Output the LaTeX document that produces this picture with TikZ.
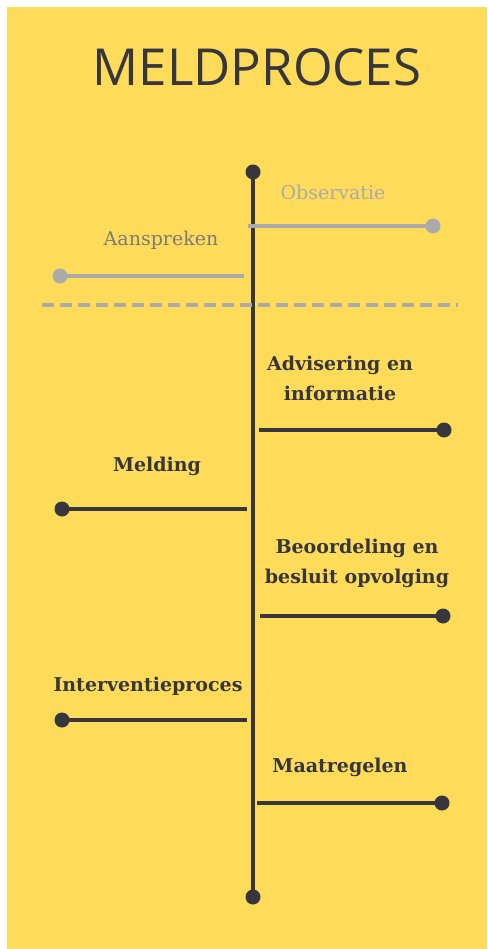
\documentclass[tikz,border=0pt]{standalone}
\usepackage{fontspec}
\setmainfont{DejaVu Serif}
\newfontfamily\titlefont{Open Sans}
\definecolor{bgyellow}{HTML}{FEDC5A}
\definecolor{ink}{HTML}{36363C}
\definecolor{lightgray}{HTML}{AAAAAA}
\definecolor{midgray}{HTML}{7B7B7B}
\tikzset{
  inkline/.style={draw=ink,line width=3.2pt},
  grayline/.style={draw=lightgray,line width=3.2pt},
  inkdot/.style={circle,fill=ink,inner sep=0pt,minimum size=15pt},
  graydot/.style={circle,fill=lightgray,inner sep=0pt,minimum size=15pt},
  boldlabel/.style={text=ink,font=\fontsize{19}{30}\selectfont\bfseries,align=center,inner sep=0pt},
  graylabel/.style={font=\fontsize{19}{24}\selectfont,inner sep=0pt},
}
\begin{document}
\begin{tikzpicture}[x=1pt,y=-1pt]
\useasboundingbox (0,0) rectangle (487,949);
\fill[white] (0,0) rectangle (487,949);
\fill[bgyellow] (7,7) rectangle (487,949);
\node[text=ink,font=\titlefont\fontsize{51}{60}\selectfont,inner sep=0pt] (title) at (257,67) {MELDPROCES};
% timeline
\node[inkdot] (top) at (253,172) {};
\node[inkdot] (bot) at (253,897) {};
\draw[inkline] (top.center) -- (bot.center);
% Observatie
\coordinate (obsA) at (248,226);
\node[graydot] (obsB) at (433,226) {};
\draw[grayline] (obsA) -- (obsB.center);
\node[graylabel,text=lightgray] (obsT) at (333,192) {Observatie};
% Aanspreken
\coordinate (aanA) at (244,276);
\node[graydot] (aanB) at (60,276) {};
\draw[grayline] (aanA) -- (aanB.center);
\node[graylabel,text=midgray] (aanT) at (161,240) {Aanspreken};
% dashed separator
\coordinate (dashA) at (42,305);
\coordinate (dashB) at (458,305);
\draw[draw=lightgray,line width=3.2pt,dash pattern=on 12pt off 6pt] (dashA) -- (dashB);
% Advisering
\coordinate (advA) at (259,430);
\node[inkdot] (advB) at (444,430) {};
\draw[inkline] (advA) -- (advB.center);
\node[boldlabel] (advT) at (340,378) {Advisering en\\informatie};
% Melding
\coordinate (melA) at (247,509);
\node[inkdot] (melB) at (62,509) {};
\draw[inkline] (melA) -- (melB.center);
\node[boldlabel] (melT) at (157,466) {Melding};
% Beoordeling
\coordinate (beoA) at (260,616);
\node[inkdot] (beoB) at (443,616) {};
\draw[inkline] (beoA) -- (beoB.center);
\node[boldlabel] (beoT) at (357,563) {Beoordeling en\\besluit opvolging};
% Interventieproces
\coordinate (intA) at (247,720);
\node[inkdot] (intB) at (62,720) {};
\draw[inkline] (intA) -- (intB.center);
\node[boldlabel] (intT) at (148,686) {Interventieproces};
% Maatregelen
\coordinate (maaA) at (257,803);
\node[inkdot] (maaB) at (442,803) {};
\draw[inkline] (maaA) -- (maaB.center);
\node[boldlabel] (maaT) at (340,767) {Maatregelen};
\end{tikzpicture}
\end{document}
